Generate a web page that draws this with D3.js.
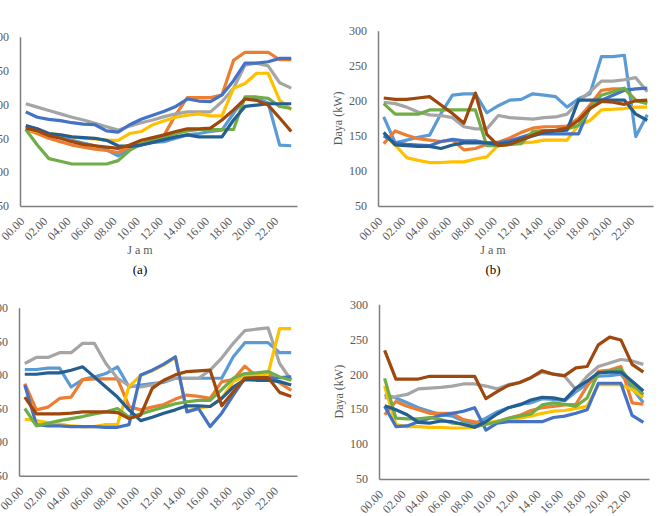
<!DOCTYPE html>
<html>
<head>
<meta charset="utf-8">
<script src="https://cdn.jsdelivr.net/npm/d3@7"></script>
<style>
  body { margin: 0; background: #fff; }
  svg { display: block; }
  text { font-family: "Liberation Serif", "Times New Roman", serif; }
</style>
</head>
<body>
<svg id="chart" width="671" height="516"></svg>
<script>
const hours = ["00.00","01.00","02.00","03.00","04.00","05.00","06.00","07.00","08.00","09.00","10.00","11.00",
  "12.00","13.00","14.00","15.00","16.00","17.00","18.00","19.00","20.00","21.00","22.00","23.00"];
const yTicks = [50, 100, 150, 200, 250, 300];
const colors = ["#5B9BD5","#ED7D31","#A5A5A5","#FFC000","#4472C4","#70AD47","#255E91","#9E480E"];

// panel (a)
const aLightBlue = [167,161,155,151,147,143,139,133,124,134,140,144,145,150,155,157,160,162,187,209,209,202,140,139];
const aOrange    = [163,157,150,145,140,137,134,132,129,137,142,147,155,185,210,210,210,214,265,277,277,277,266,266];
const aGray      = [201,196,191,186,181,177,172,167,162,168,173,177,182,186,189,189,189,204,224,258,261,257,232,224];
const aYellow    = [163,160,157,155,152,150,149,147,147,157,160,170,176,181,184,186,183,183,224,231,246,246,206,192];
const aBlue      = [189,181,178,176,173,171,170,161,159,170,178,184,190,197,208,205,204,214,235,261,261,263,268,268];
const aGreen     = [163,140,120,116,112,112,112,112,117,132,142,147,152,157,161,163,163,163,163,211,211,209,197,194];
const aDarkBlue  = [169,164,157,155,152,151,150,147,139,138,140,144,148,152,155,152,152,152,177,197,199,201,201,201];
const aBrown     = [165,161,154,150,145,141,139,137,135,140,147,151,155,160,164,164,165,177,192,208,206,199,180,160];

// panel (b)
const bLightBlue = [177,140,144,148,151,182,208,210,210,183,193,201,202,210,208,206,191,203,210,263,263,265,149,180];
const bOrange    = [139,157,151,146,144,142,144,130,132,138,141,147,155,161,163,163,164,175,194,215,217,217,201,198];
const bGray      = [198,196,191,184,180,179,176,163,160,160,179,176,175,174,176,177,181,199,213,228,228,230,233,213];
const bYellow    = [153,137,119,115,112,112,113,113,117,120,137,138,140,141,144,144,144,165,172,187,188,189,191,191];
const bBlue      = [150,140,138,137,136,142,145,143,143,140,140,143,148,153,153,153,153,153,191,201,208,215,217,218];
const bGreen     = [196,181,181,181,187,187,187,187,187,136,136,138,139,156,158,157,160,165,189,208,213,218,200,196];
const bDarkBlue  = [155,137,136,135,135,132,137,140,140,140,138,140,145,150,155,157,158,201,201,201,201,201,181,172];
const bBrown     = [204,202,202,204,206,194,182,168,211,152,136,138,144,151,157,158,161,172,189,199,198,195,200,201];

// panel (c)
const cLightBlue = [208,208,210,210,182,193,197,202,212,182,185,187,189,195,195,195,195,195,227,248,248,248,233,233];
const cOrange    = [187,148,152,165,167,193,194,194,194,153,148,152,156,164,170,168,165,190,193,213,198,202,188,177];
const cGray      = [217,226,226,233,233,247,247,217,195,184,182,185,191,195,195,195,207,225,247,266,268,270,217,192];
const cYellow    = [134,132,129,127,124,123,123,126,126,183,199,206,215,226,146,151,153,165,190,198,200,202,269,269];
const cBlue      = [185,126,124,124,123,123,123,122,122,126,200,207,216,227,145,150,123,143,170,195,195,195,196,197];
const cGreen     = [150,124,128,132,135,138,142,145,150,137,142,147,152,157,160,162,162,178,195,202,203,205,197,192];
const cDarkBlue  = [201,201,203,203,207,212,197,182,167,148,132,137,143,148,154,154,153,165,182,193,192,192,190,185];
const cBrown     = [167,142,142,142,143,145,145,145,144,135,140,180,192,200,205,206,207,154,175,195,196,196,174,168];

// panel (d)
const dLightBlue = [171,166,159,152,147,142,140,133,129,137,146,152,157,159,165,164,162,175,186,197,198,200,180,159];
const dOrange    = [142,161,154,149,144,144,144,135,132,129,132,137,141,148,152,154,156,157,183,204,206,211,159,157];
const dGray      = [166,168,171,179,180,181,183,186,186,183,179,185,188,195,203,200,197,178,197,211,216,221,219,214];
const dYellow    = [183,128,125,125,124,124,123,123,124,130,133,135,137,140,144,147,148,151,154,185,185,185,178,167];
const dBlue      = [154,125,126,132,137,141,144,147,152,120,130,132,132,132,132,138,140,144,149,187,187,187,141,131];
const dGreen     = [194,137,136,136,138,135,130,129,125,128,132,137,140,143,156,159,157,154,166,202,204,208,185,171];
const dDarkBlue  = [155,149,142,131,130,133,132,128,124,132,143,152,156,163,167,166,163,180,190,202,203,203,190,176];
const dBrown     = [234,193,193,193,197,197,197,197,197,165,175,184,188,195,205,200,198,209,211,242,253,249,214,203];

const panels = [
  {series: [aLightBlue,aOrange,aGray,aYellow,aBlue,aGreen,aDarkBlue,aBrown],
   left: 20, right: 297, top: 36.7, bottom: 206, caption: "(a)", jamX: 140, yTitle: false},
  {series: [bLightBlue,bOrange,bGray,bYellow,bBlue,bGreen,bDarkBlue,bBrown],
   left: 378, right: 653, top: 30.7, bottom: 206, caption: "(b)", jamX: 493, yTitle: true},
  {series: [cLightBlue,cOrange,cGray,cYellow,cBlue,cGreen,cDarkBlue,cBrown],
   left: 19, right: 297, top: 307.7, bottom: 475.7, caption: null, yTitle: false},
  {series: [dLightBlue,dOrange,dGray,dYellow,dBlue,dGreen,dDarkBlue,dBrown],
   left: 379, right: 649, top: 304.3, bottom: 479, caption: null, yTitle: true}
];

const svg = d3.select("#chart");
svg.append("rect").attr("width", 671).attr("height", 516).attr("fill", "#fff");

panels.forEach(p => {
  const x = d3.scalePoint().domain(hours).range([p.left, p.right]).padding(0.5);
  const y = d3.scaleLinear().domain([50, 300]).range([p.bottom, p.top]);
  const g = svg.append("g");

  // y axis
  const ya = g.append("g")
    .attr("transform", `translate(${p.left},0)`)
    .call(d3.axisLeft(y).tickValues(yTicks).tickSize(0).tickPadding(11));
  ya.select(".domain").attr("stroke", "#7f7f7f").attr("stroke-width", 1.5);
  ya.selectAll("text").attr("font-size", 12).attr("fill", "#595959")
    .style("font-family", "'Liberation Serif', serif");

  // x axis, labels every two hours, slanted
  const xa = g.append("g")
    .attr("transform", `translate(0,${p.bottom})`)
    .call(d3.axisBottom(x).tickValues(hours.filter((h, i) => i % 2 === 0)).tickSize(0));
  xa.select(".domain").attr("stroke", "#7f7f7f").attr("stroke-width", 1.5);
  xa.selectAll("text")
    .attr("x", 0).attr("y", 0).attr("dy", "0.35em")
    .attr("text-anchor", "end")
    .attr("transform", "translate(-4,13) rotate(-45)")
    .attr("font-size", 12).attr("fill", "#595959")
    .style("font-family", "'Liberation Serif', serif");

  const line = d3.line()
    .x((d, i) => x(hours[i]))
    .y(d => y(d));

  p.series.forEach((s, k) => {
    g.append("path")
      .datum(s)
      .attr("fill", "none")
      .attr("stroke", colors[k])
      .attr("stroke-width", 3.2)
      .attr("stroke-linejoin", "round")
      .attr("d", line);
  });

  if (p.yTitle) {
    g.append("text")
      .attr("transform", `translate(${p.left - 36},${(p.top + p.bottom) / 2}) rotate(-90)`)
      .attr("text-anchor", "middle")
      .attr("font-size", 12).attr("fill", "#595959")
      .text("Daya (kW)");
  }

  if (p.caption) {
    g.append("text")
      .attr("x", p.jamX).attr("y", p.bottom + 48)
      .attr("text-anchor", "middle")
      .attr("font-size", 12).attr("fill", "#595959")
      .text("J a m");
    g.append("text")
      .attr("x", p.jamX).attr("y", p.bottom + 68)
      .attr("text-anchor", "middle")
      .attr("font-size", 13).attr("fill", "#000")
      .text(p.caption);
  }
});
</script>
</body>
</html>
